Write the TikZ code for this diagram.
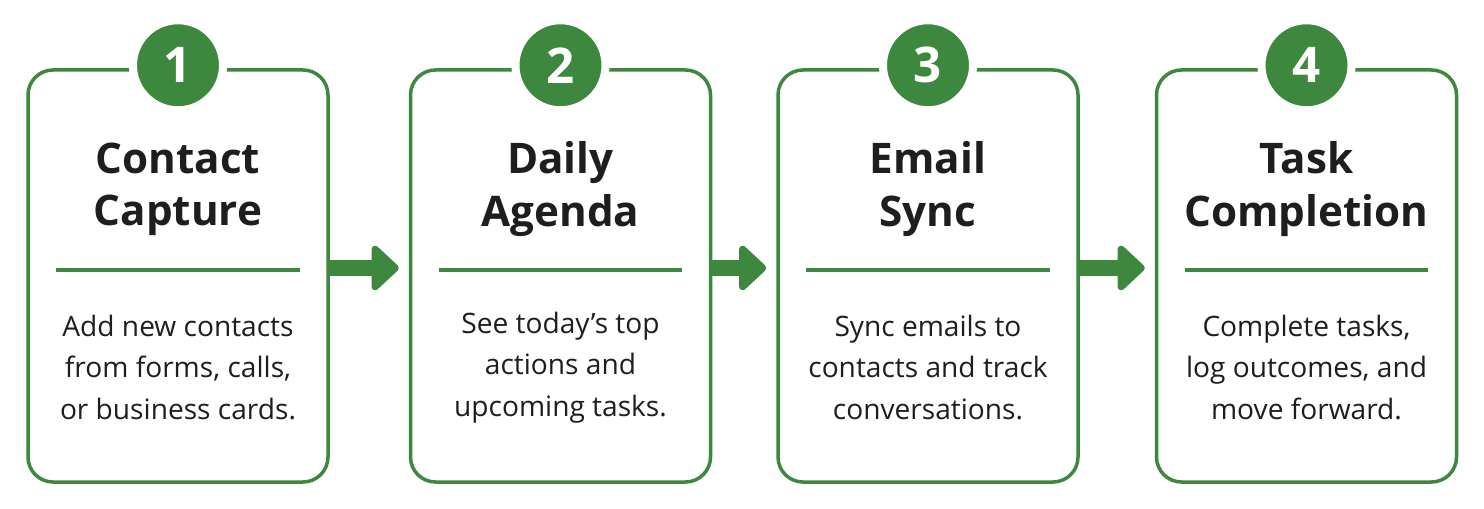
\documentclass[tikz,border=0pt]{standalone}
\usepackage{fontspec}
\setmainfont{Open Sans}
\usepackage{xcolor}
\usetikzlibrary{positioning, arrows.meta}
\definecolor{stepgreen}{RGB}{62,135,62}
\definecolor{inkdark}{RGB}{30,30,30}

\tikzset{
  card/.style={draw=stepgreen, line width=0.07cm, rounded corners=0.5cm, fill=white, minimum width=6cm, minimum height=8.24cm},
  badge/.style={circle, fill=stepgreen, draw=white, line width=0.16cm, minimum size=1.8cm, inner sep=0pt, text=white, font=\fontsize{28}{28}\selectfont\bfseries},
  steptitle/.style={align=center, text=inkdark, font=\fontsize{24}{30}\selectfont\bfseries},
  stepbody/.style={align=center, text=inkdark, font=\fontsize{16}{23.6}\selectfont},
  divider/.style={draw=stepgreen, line width=0.07cm},
  flow/.style={draw=stepgreen, line width=0.32cm, -{Triangle[length=0.58cm, width=1.04cm, round]}, shorten >=0.2cm}
}

\begin{document}
\begin{tikzpicture}
    \useasboundingbox[fill=white] (0,0) rectangle (29.68,10.16);

    % Schritt 1
    \node[card] (card1) at (3.56,4.64) {};
    \node[badge] (badge1) at ([yshift=0.06cm]card1.north) {1};
    \node[steptitle] (title1) at ([yshift=-2.42cm]card1.north) {Contact\\Capture};
    \draw[divider] ([xshift=0.6cm, yshift=-4.04cm]card1.north west) -- ([xshift=-0.6cm, yshift=-4.04cm]card1.north east);
    \node[stepbody] (body1) at ([yshift=-5.98cm]card1.north) {Add new contacts\\from forms, calls,\\or business cards.};

    % Schritt 2
    \node[card] (card2) at (11.21,4.64) {};
    \node[badge] (badge2) at ([yshift=0.06cm]card2.north) {2};
    \node[steptitle] (title2) at ([yshift=-2.42cm]card2.north) {Daily\\Agenda};
    \draw[divider] ([xshift=0.6cm, yshift=-4.04cm]card2.north west) -- ([xshift=-0.6cm, yshift=-4.04cm]card2.north east);
    \node[stepbody] (body2) at ([yshift=-5.98cm]card2.north) {See today’s top\\actions and\\upcoming tasks.};

    % Schritt 3
    \node[card] (card3) at (18.56,4.64) {};
    \node[badge] (badge3) at ([yshift=0.06cm]card3.north) {3};
    \node[steptitle] (title3) at ([yshift=-2.42cm]card3.north) {Email\\Sync};
    \draw[divider] ([xshift=0.6cm, yshift=-4.04cm]card3.north west) -- ([xshift=-0.6cm, yshift=-4.04cm]card3.north east);
    \node[stepbody] (body3) at ([yshift=-5.98cm]card3.north) {Sync emails to\\contacts and track\\conversations.};

    % Schritt 4
    \node[card] (card4) at (26.13,4.64) {};
    \node[badge] (badge4) at ([yshift=0.06cm]card4.north) {4};
    \node[steptitle] (title4) at ([yshift=-2.42cm]card4.north) {Task\\Completion};
    \draw[divider] ([xshift=0.6cm, yshift=-4.04cm]card4.north west) -- ([xshift=-0.6cm, yshift=-4.04cm]card4.north east);
    \node[stepbody] (body4) at ([yshift=-5.98cm]card4.north) {Complete tasks,\\log outcomes, and\\move forward.};

    % Pfeile
    \draw[flow] ([yshift=0.16cm]card1.east) -- ([yshift=0.16cm]card2.west);
    \draw[flow] ([yshift=0.16cm]card2.east) -- ([yshift=0.16cm]card3.west);
    \draw[flow] ([yshift=0.16cm]card3.east) -- ([yshift=0.16cm]card4.west);
\end{tikzpicture}
\end{document}
